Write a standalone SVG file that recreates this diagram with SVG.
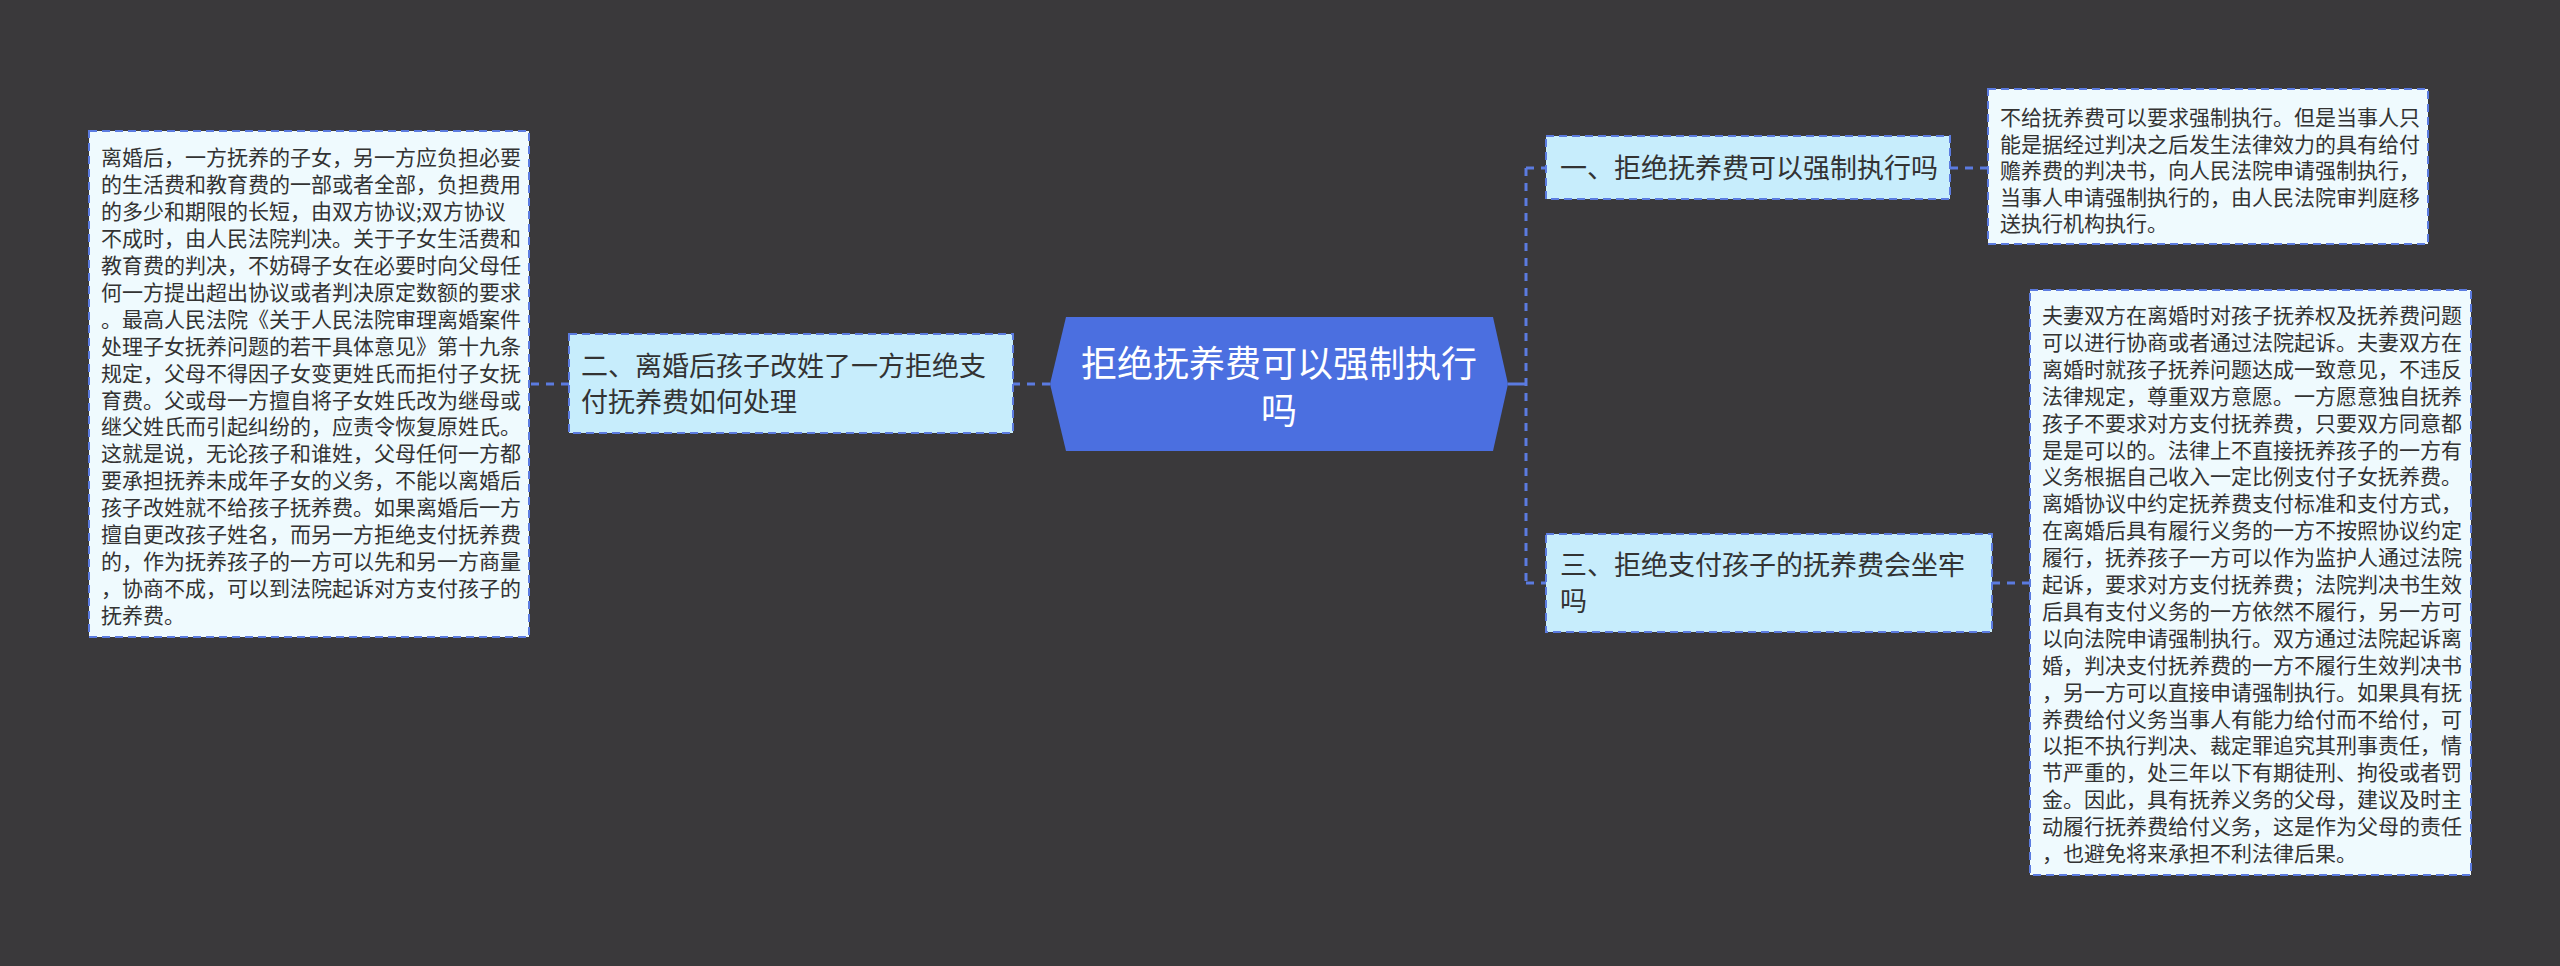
<svg xmlns="http://www.w3.org/2000/svg" width="2560" height="966" viewBox="0 0 2560 966">
<style>
.bg{fill:#3a393b}
.leaf{fill:#effafe;stroke:#5b7be0;stroke-width:2;stroke-dasharray:8 5}
.lvl1{fill:#c7edfc;stroke:#5b7be0;stroke-width:2;stroke-dasharray:8 5}
.root{fill:#4b6fe0}
.t{font-family:"Noto Sans CJK SC","Noto Sans",sans-serif;fill:#333333}
.s21{font-size:21px}
.s27{font-size:27px}
.s36{font-size:36px;fill:#ffffff}
.con{fill:none;stroke:#5b7be0;stroke-width:3;stroke-dasharray:8 7}
.solid{fill:none;stroke:#5b7be0;stroke-width:3}
</style>
<rect class="bg" x="0" y="0" width="2560" height="966"/>
<g id="connectors">
<path class="solid" d="M1508 384 H1526"/>
<path class="con" d="M1526 168 V583"/>
<path class="con" d="M1526 168 H1546"/>
<path class="con" d="M1526 583 H1546"/>
<path class="con" d="M1950 168 H1988"/>
<path class="con" d="M1992 583 H2030"/>
<path class="con" d="M1050 384 H1013"/>
<path class="con" d="M569 384 H529"/>
</g>
<g id="root">
<polygon class="root" points="1066,317 1493,317 1508,384 1493,451 1066,451 1050,384"/>
<text class="t s36" text-anchor="middle"><tspan x="1279" y="377">拒绝抚养费可以强制执行</tspan><tspan x="1279" y="424">吗</tspan></text>
</g>
<g id="node1">
<rect class="lvl1" x="1546" y="136" width="404" height="63"/>
<text class="t s27" x="1560" y="178">一、拒绝抚养费可以强制执行吗</text>
</g>
<g id="node3">
<rect class="lvl1" x="1546" y="534" width="446" height="98"/>
<text class="t s27"><tspan x="1560" y="575">三、拒绝支付孩子的抚养费会坐牢</tspan><tspan x="1560" y="611">吗</tspan></text>
</g>
<g id="node2">
<rect class="lvl1" x="569" y="334" width="444" height="99"/>
<text class="t s27"><tspan x="581" y="376">二、离婚后孩子改姓了一方拒绝支</tspan><tspan x="581" y="412">付抚养费如何处理</tspan></text>
</g>
<g id="leaf1">
<rect class="leaf" x="1988" y="89" width="440" height="155"/>
<text class="t s21">
<tspan x="2000" y="125">不给抚养费可以要求强制执行。但是当事人只</tspan>
<tspan x="2000" y="151.5">能是据经过判决之后发生法律效力的具有给付</tspan>
<tspan x="2000" y="178">赡养费的判决书，向人民法院申请强制执行，</tspan>
<tspan x="2000" y="204.5">当事人申请强制执行的，由人民法院审判庭移</tspan>
<tspan x="2000" y="231">送执行机构执行。</tspan>
</text>
</g>
<g id="leaf3">
<rect class="leaf" x="2030" y="290" width="441" height="585"/>
<text class="t s21">
<tspan x="2042" y="323">夫妻双方在离婚时对孩子抚养权及抚养费问题</tspan>
<tspan x="2042" y="349.9">可以进行协商或者通过法院起诉。夫妻双方在</tspan>
<tspan x="2042" y="376.8">离婚时就孩子抚养问题达成一致意见，不违反</tspan>
<tspan x="2042" y="403.7">法律规定，尊重双方意愿。一方愿意独自抚养</tspan>
<tspan x="2042" y="430.6">孩子不要求对方支付抚养费，只要双方同意都</tspan>
<tspan x="2042" y="457.5">是是可以的。法律上不直接抚养孩子的一方有</tspan>
<tspan x="2042" y="484.4">义务根据自己收入一定比例支付子女抚养费。</tspan>
<tspan x="2042" y="511.3">离婚协议中约定抚养费支付标准和支付方式，</tspan>
<tspan x="2042" y="538.2">在离婚后具有履行义务的一方不按照协议约定</tspan>
<tspan x="2042" y="565.1">履行，抚养孩子一方可以作为监护人通过法院</tspan>
<tspan x="2042" y="592">起诉，要求对方支付抚养费；法院判决书生效</tspan>
<tspan x="2042" y="618.9">后具有支付义务的一方依然不履行，另一方可</tspan>
<tspan x="2042" y="645.8">以向法院申请强制执行。双方通过法院起诉离</tspan>
<tspan x="2042" y="672.7">婚，判决支付抚养费的一方不履行生效判决书</tspan>
<tspan x="2042" y="699.6">，另一方可以直接申请强制执行。如果具有抚</tspan>
<tspan x="2042" y="726.5">养费给付义务当事人有能力给付而不给付，可</tspan>
<tspan x="2042" y="753.4">以拒不执行判决、裁定罪追究其刑事责任，情</tspan>
<tspan x="2042" y="780.3">节严重的，处三年以下有期徒刑、拘役或者罚</tspan>
<tspan x="2042" y="807.2">金。因此，具有抚养义务的父母，建议及时主</tspan>
<tspan x="2042" y="834.1">动履行抚养费给付义务，这是作为父母的责任</tspan>
<tspan x="2042" y="861">，也避免将来承担不利法律后果。</tspan>
</text>
</g>
<g id="leaf2">
<rect class="leaf" x="89" y="131" width="440" height="506"/>
<text class="t s21">
<tspan x="101" y="165">离婚后，一方抚养的子女，另一方应负担必要</tspan>
<tspan x="101" y="191.9">的生活费和教育费的一部或者全部，负担费用</tspan>
<tspan x="101" y="218.9">的多少和期限的长短，由双方协议;双方协议</tspan>
<tspan x="101" y="245.8">不成时，由人民法院判决。关于子女生活费和</tspan>
<tspan x="101" y="272.8">教育费的判决，不妨碍子女在必要时向父母任</tspan>
<tspan x="101" y="299.7">何一方提出超出协议或者判决原定数额的要求</tspan>
<tspan x="101" y="326.6">。最高人民法院《关于人民法院审理离婚案件</tspan>
<tspan x="101" y="353.6">处理子女抚养问题的若干具体意见》第十九条</tspan>
<tspan x="101" y="380.5">规定，父母不得因子女变更姓氏而拒付子女抚</tspan>
<tspan x="101" y="407.5">育费。父或母一方擅自将子女姓氏改为继母或</tspan>
<tspan x="101" y="434.4">继父姓氏而引起纠纷的，应责令恢复原姓氏。</tspan>
<tspan x="101" y="461.3">这就是说，无论孩子和谁姓，父母任何一方都</tspan>
<tspan x="101" y="488.3">要承担抚养未成年子女的义务，不能以离婚后</tspan>
<tspan x="101" y="515.2">孩子改姓就不给孩子抚养费。如果离婚后一方</tspan>
<tspan x="101" y="542.2">擅自更改孩子姓名，而另一方拒绝支付抚养费</tspan>
<tspan x="101" y="569.1">的，作为抚养孩子的一方可以先和另一方商量</tspan>
<tspan x="101" y="596">，协商不成，可以到法院起诉对方支付孩子的</tspan>
<tspan x="101" y="623">抚养费。</tspan>
</text>
</g>
</svg>
